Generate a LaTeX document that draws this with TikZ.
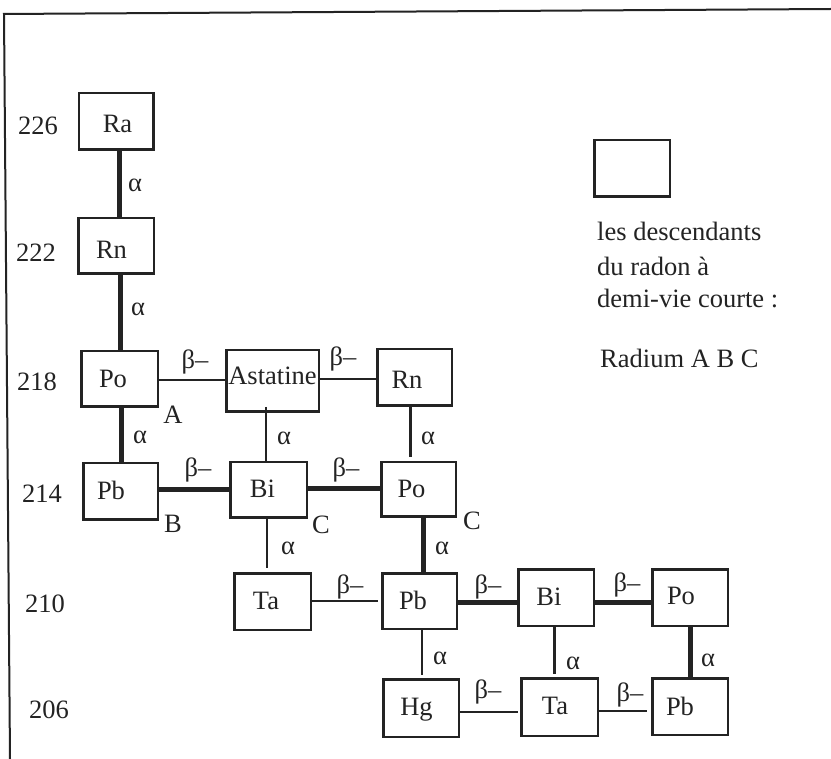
\documentclass[tikz,border=0pt]{standalone}
\usepackage{fontspec}
\setmainfont{Liberation Serif}
\definecolor{inkc}{RGB}{35,35,35}
\begin{document}
\begin{tikzpicture}[x=1pt,y=-1pt,
  elbox/.style={draw=inkc, line width=2.5pt, inner sep=0pt},
  eltext/.style={text=inkc, inner sep=0pt, font=\fontsize{26.5}{30}\selectfont, text height=17.5pt, text depth=0pt},
  lbl/.style={text=inkc, inner sep=0pt, font=\fontsize{26.5}{30}\selectfont},
  thinlink/.style={draw=inkc, line width=2.4pt},
  thicklink/.style={draw=inkc, line width=5pt},
  frameline/.style={draw=inkc, line width=2pt}
]
\useasboundingbox[fill=white] (0,0) rectangle (831,759);
% frame
\coordinate (f1) at (3,14);
\coordinate (f2) at (831,9);
\coordinate (f3) at (10,759);
\draw[frameline] (f1) -- (f2);
\draw[frameline] ([xshift=1pt]f1) -- (f3);

% element boxes
\node[elbox, minimum width=74.5pt, minimum height=56.5pt] (Ra)  at (116,121.5) {};
\node[elbox, minimum width=75.5pt, minimum height=55.5pt] (Rn1) at (116,246) {};
\node[elbox, minimum width=76.5pt, minimum height=55.5pt] (Po1) at (119.5,379) {};
\node[elbox, minimum width=92.5pt, minimum height=61.5pt] (At)  at (272.5,381) {};
\node[elbox, minimum width=74.5pt, minimum height=56.5pt] (Rn2) at (414.5,377.5) {};
\node[elbox, minimum width=74.5pt, minimum height=56.5pt] (Pb1) at (120.5,491.5) {};
\node[elbox, minimum width=76.5pt, minimum height=55.5pt] (Bi1) at (268.5,490) {};
\node[elbox, minimum width=74.5pt, minimum height=54.5pt] (Po2) at (418.5,489.5) {};
\node[elbox, minimum width=76.5pt, minimum height=56.5pt] (Ta1) at (272.5,601.5) {};
\node[elbox, minimum width=74.5pt, minimum height=55.5pt] (Pb2) at (419.5,601) {};
\node[elbox, minimum width=75.5pt, minimum height=56.5pt] (Bi2) at (556,597.5) {};
\node[elbox, minimum width=75.5pt, minimum height=56.5pt] (Po3) at (690,597.5) {};
\node[elbox, minimum width=75.5pt, minimum height=57.5pt] (Hg)  at (421,708) {};
\node[elbox, minimum width=76.5pt, minimum height=57.5pt] (Ta2) at (559.5,707) {};
\node[elbox, minimum width=75.5pt, minimum height=56.5pt] (Pb3) at (690,706.5) {};
\node[elbox, minimum width=75.5pt, minimum height=56.5pt] (Leg) at (632,168.5) {};

% element symbols
\node[eltext] (tRa)  at (117.5,124) {Ra};
\node[eltext] (tRn1) at (111.5,250) {Rn};
\node[eltext] (tPo1) at (113,379) {Po};
\node[eltext] (tAt)  at (272.5,376) {Astatine};
\node[eltext] (tRn2) at (407,379.5) {Rn};
\node[eltext] (tPb1) at (111,491) {Pb};
\node[eltext] (tBi1) at (262.5,489) {Bi};
\node[eltext] (tPo2) at (411.5,489) {Po};
\node[eltext] (tTa1) at (266,601) {Ta};
\node[eltext] (tPb2) at (413,601) {Pb};
\node[eltext] (tBi2) at (549,597) {Bi};
\node[eltext] (tPo3) at (681,595.5) {Po};
\node[eltext] (tHg)  at (416.5,706.5) {Hg};
\node[eltext] (tTa2) at (555,705.5) {Ta};
\node[eltext] (tPb3) at (680,707) {Pb};

% mass numbers
\node[eltext] (m226) at (38,126) {226};
\node[eltext] (m222) at (36,253) {222};
\node[eltext] (m218) at (37,382) {218};
\node[eltext] (m214) at (42,494) {214};
\node[eltext] (m210) at (45,604) {210};
\node[eltext] (m206) at (49,710) {206};

% connectors
\draw[thicklink] ([xshift=3pt]Ra.south) -- ([xshift=3pt]Rn1.north);
\draw[thicklink] ([xshift=4pt]Rn1.south) -- ([xshift=0.5pt]Po1.north);
\draw[thicklink] ([xshift=1.5pt]Po1.south) -- ([xshift=0.5pt]Pb1.north);
\draw[thinlink] ([yshift=-1pt]Po1.east) -- ([yshift=1pt]At.west);
\draw[thinlink] ([yshift=2pt]At.east) -- ([yshift=-1.5pt]Rn2.west);
\draw[thinlink, shorten <=-6pt] ([xshift=-6.5pt]At.south) -- ([xshift=-2.5pt]Bi1.north);
\draw[thinlink, shorten >=4pt] ([xshift=-4pt]Rn2.south) -- ([xshift=-8pt]Po2.north);
\draw[thicklink] ([yshift=1.5pt]Pb1.east) -- ([yshift=0pt]Bi1.west);
\draw[thicklink] ([yshift=1pt]Bi1.east) -- ([yshift=0.5pt]Po2.west);
\draw[thinlink, shorten >=4pt] ([xshift=-1.5pt]Bi1.south) -- ([xshift=-5.5pt]Ta1.north);
\draw[thicklink] ([xshift=4.5pt]Po2.south) -- ([xshift=3.5pt]Pb2.north);
\draw[thinlink, shorten >=3pt] ([yshift=0.5pt]Ta1.east) -- ([yshift=0pt]Pb2.west);
\draw[thicklink] ([yshift=-1pt]Pb2.east) -- ([yshift=-4.5pt]Bi2.west);
\draw[thicklink] ([yshift=-4.5pt]Bi2.east) -- ([yshift=-4.5pt]Po3.west);
\draw[thinlink, shorten >=3pt] ([xshift=2.5pt]Pb2.south) -- ([xshift=1pt]Hg.north);
\draw[thinlink, shorten >=3pt] ([xshift=-1.5pt]Bi2.south) -- ([xshift=-5pt]Ta2.north);
\draw[thicklink] (Po3.south) -- (Pb3.north);
\draw[thinlink, shorten >=2pt] ([yshift=-4pt]Hg.east) -- ([yshift=-5pt]Ta2.west);
\draw[thinlink, shorten >=4pt] ([yshift=-4pt]Ta2.east) -- ([yshift=-4.5pt]Pb3.west);

% decay labels
\node[lbl] (a1)  at (135,185) {α};
\node[lbl] (a2)  at (138,309) {α};
\node[lbl] (a3)  at (140,437) {α};
\node[lbl] (a4)  at (284,438) {α};
\node[lbl] (a5)  at (428,438) {α};
\node[lbl] (a6)  at (288,548) {α};
\node[lbl] (a7)  at (442,548) {α};
\node[lbl] (a8)  at (440,658) {α};
\node[lbl] (a9)  at (573,663) {α};
\node[lbl] (a10) at (708,660) {α};
\node[lbl] (b1) at (195,362) {β–};
\node[lbl] (b2) at (343,359) {β–};
\node[lbl] (b3) at (198,470) {β–};
\node[lbl] (b4) at (346,470) {β–};
\node[lbl] (b5) at (350,587) {β–};
\node[lbl] (b6) at (488,587) {β–};
\node[lbl] (b7) at (627,585) {β–};
\node[lbl] (b8) at (488,692) {β–};
\node[lbl] (b9) at (630,695) {β–};

% A B C markers
\node[eltext] (lA)  at (173,415) {A};
\node[eltext] (lB)  at (173,524) {B};
\node[eltext] (lC1) at (321,525) {C};
\node[eltext] (lC2) at (472,521) {C};

% legend text
\node[lbl, anchor=base west] (g1) at (597,241) {les descendants};
\node[lbl, anchor=base west] (g2) at (597,276) {du radon à};
\node[lbl, anchor=base west] (g3) at (597,308) {demi-vie courte :};
\node[lbl, anchor=base west] (g4) at (600,368) {Radium A B C};
\end{tikzpicture}
\end{document}
